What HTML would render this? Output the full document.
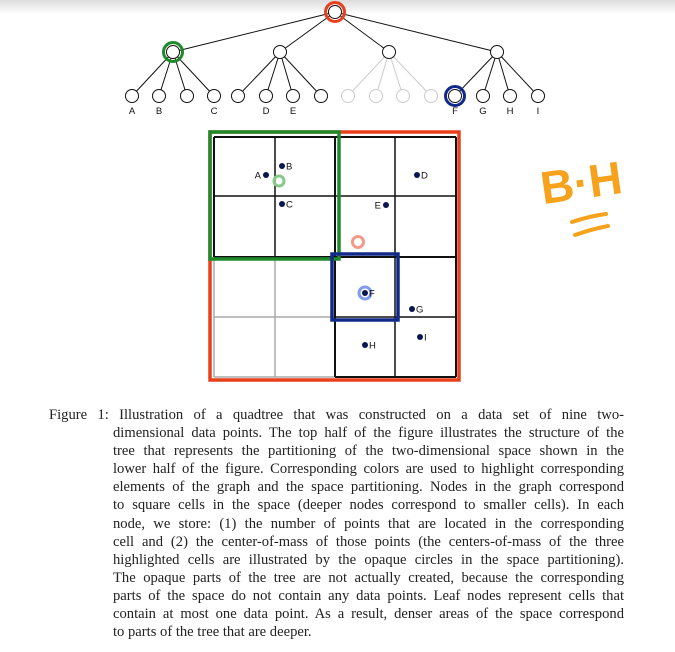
<!DOCTYPE html>
<html><head><meta charset="utf-8"><style>
body{margin:0;background:#fff;width:675px;height:652px;overflow:hidden;position:relative;font-family:"Liberation Serif",serif}
#cap{position:absolute;left:49px;top:406px;width:575px;font-size:14.6px;line-height:18.1px;color:#222}
.l{display:block;white-space:nowrap;text-align:justify;text-align-last:justify;margin-left:64px}
.l.f{margin-left:0}
.l.last{text-align-last:left}
</style></head><body>
<svg width="675" height="400" style="position:absolute;left:0;top:0" font-family="Liberation Sans, sans-serif">
<defs><linearGradient id="sh" x1="0" y1="0" x2="0" y2="1"><stop offset="0" stop-color="#ddd"/><stop offset="1" stop-color="#fff"/></linearGradient></defs>
<rect x="0" y="0" width="675" height="14" fill="url(#sh)"/>
<g id="tree"></g>
<g id="grid"></g>
<text x="540" y="198" font-size="46" fill="#f6a21d" font-family="Liberation Sans, sans-serif" font-weight="bold" transform="rotate(-8 585 180)">B·H</text>
<path d="M572 222 Q590 216 606 214 M575 235 Q592 229 608 226" stroke="#f6a21d" stroke-width="4" fill="none" stroke-linecap="round"/>
</svg>
<div id="cap">
<span class="l f">Figure 1: Illustration of a quadtree that was constructed on a data set of nine two-</span>
<span class="l">dimensional data points. The top half of the figure illustrates the structure of the</span>
<span class="l">tree that represents the partitioning of the two-dimensional space shown in the</span>
<span class="l">lower half of the figure. Corresponding colors are used to highlight corresponding</span>
<span class="l">elements of the graph and the space partitioning. Nodes in the graph correspond</span>
<span class="l">to square cells in the space (deeper nodes correspond to smaller cells). In each</span>
<span class="l">node, we store: (1) the number of points that are located in the corresponding</span>
<span class="l">cell and (2) the center-of-mass of those points (the centers-of-mass of the three</span>
<span class="l">highlighted cells are illustrated by the opaque circles in the space partitioning).</span>
<span class="l">The opaque parts of the tree are not actually created, because the corresponding</span>
<span class="l">parts of the space do not contain any data points. Leaf nodes represent cells that</span>
<span class="l">contain at most one data point. As a result, denser areas of the space correspond</span>
<span class="l last">to parts of the tree that are deeper.</span>
</div>
<script>
const NS="http://www.w3.org/2000/svg";
function mk(p,t,a){const e=document.createElementNS(NS,t);for(const k in a)e.setAttribute(k,a[k]);p.appendChild(e);return e;}
const tree=document.getElementById('tree');
const rootX=335,rootY=12,midY=52,leafY=96;
const midX=[173,280,389,497];
const leafX=[132,159,187,214,238,266,293,321,348,376,403,431,455,483,510,538];
const leafLabels=["A","B","","C","","D","E","","","","","","F","G","H","I"];
for(let i=0;i<4;i++){
  const l=mk(tree,'line',{x1:rootX,y1:rootY,x2:midX[i],y2:midY,stroke:'#111','stroke-width':1});
  
  
  for(let j=0;j<4;j++){
    const k=i*4+j;const c=i==2?'#ccc':'#111';
    const e=mk(tree,'line',{x1:midX[i],y1:midY,x2:leafX[k],y2:leafY,stroke:c,'stroke-width':1});
    
    
  }
}
for(let k=0;k<16;k++){
  const c=mk(tree,'circle',{cx:leafX[k],cy:leafY,r:6.5,fill:'#fff',stroke:k>=8&&k<12?'#ccc':'#111','stroke-width':1});
  
  
  if(leafLabels[k]){const t=mk(tree,'text',{x:leafX[k],y:114,'font-size':9.5,'text-anchor':'middle',fill:'#111'});t.textContent=leafLabels[k];
    
    }
}
midX.forEach(x=>{const c=mk(tree,'circle',{cx:x,cy:midY,r:6.5,fill:'#fff',stroke:'#111','stroke-width':1});
  
  });
const r=mk(tree,'circle',{cx:rootX,cy:rootY,r:6.5,fill:'#fff',stroke:'#111','stroke-width':1});


const hl=[[rootX,rootY,'#e8401c'],[midX[0],midY,'#1e8a2a'],[leafX[12],leafY,'#112a8a']];
hl.forEach(h=>{const c=mk(tree,'circle',{cx:h[0],cy:h[1],r:9.5,fill:'none',stroke:h[2],'stroke-width':3});
  
  });

const g=document.getElementById('grid');
function L(x1,y1,x2,y2,c,w){const e=mk(g,'line',{x1,y1,x2,y2,stroke:c,'stroke-width':w});
  
  }
L(275,257,275,377,'#aaa',1.5);L(214,317,335,317,'#aaa',1.5);L(214,257,214,377,'#aaa',1.5);L(214,377,335,377,'#aaa',1.5);
L(275,137,275,257,'#111',1.5);L(395,137,395,377,'#111',1.5);
L(214,196,456,196,'#111',1.5);L(335,317,456,317,'#111',1.5);
L(335,137,335,377,'#111',2);L(214,257,456,257,'#111',2);
L(214,137,456,137,'#111',2);L(456,137,456,377,'#111',2);L(335,377,456,377,'#111',2);L(214,137,214,257,'#111',2);
function box(x,y,w,h,c,n){const e=mk(g,'rect',{x,y,width:w,height:h,fill:'none',stroke:c,'stroke-width':3.5});
  
  }
box(210,132,249,248,'#e8401c','root-cell');
box(210,132,129,127,'#1e8a2a','green-cell');
box(332,254,66,66,'#112a8a','blue-cell');
const cm=[[279,181,'#86c98a',5,3],[358,242,'#f59a86',5.5,3],[365,293,'#7f9cf0',6,3]];
cm.forEach(c=>{const e=mk(g,'circle',{cx:c[0],cy:c[1],r:c[3],fill:'none',stroke:c[2],'stroke-width':c[4]});
  
  });
const ptNames=["A","B","C","D","E","F","G","H","I"];
const ptX=[266,282,282,417,386,365,412,365,420];
const ptY=[175,166,204,175,205,293,309,345,337];
const ptLeft=[1,0,0,0,1,0,0,0,0];
for(let i=0;i<9;i++){
  const c=mk(g,'circle',{cx:ptX[i],cy:ptY[i],r:3,fill:'#0a1650'});
  
  
  const t=mk(g,'text',{x:ptLeft[i]?ptX[i]-5:ptX[i]+4,y:ptY[i]+3.5,'font-size':9.5,'text-anchor':ptLeft[i]?'end':'start',fill:'#111'});
  t.textContent=ptNames[i];
  
  
}
</script>
</body></html>
